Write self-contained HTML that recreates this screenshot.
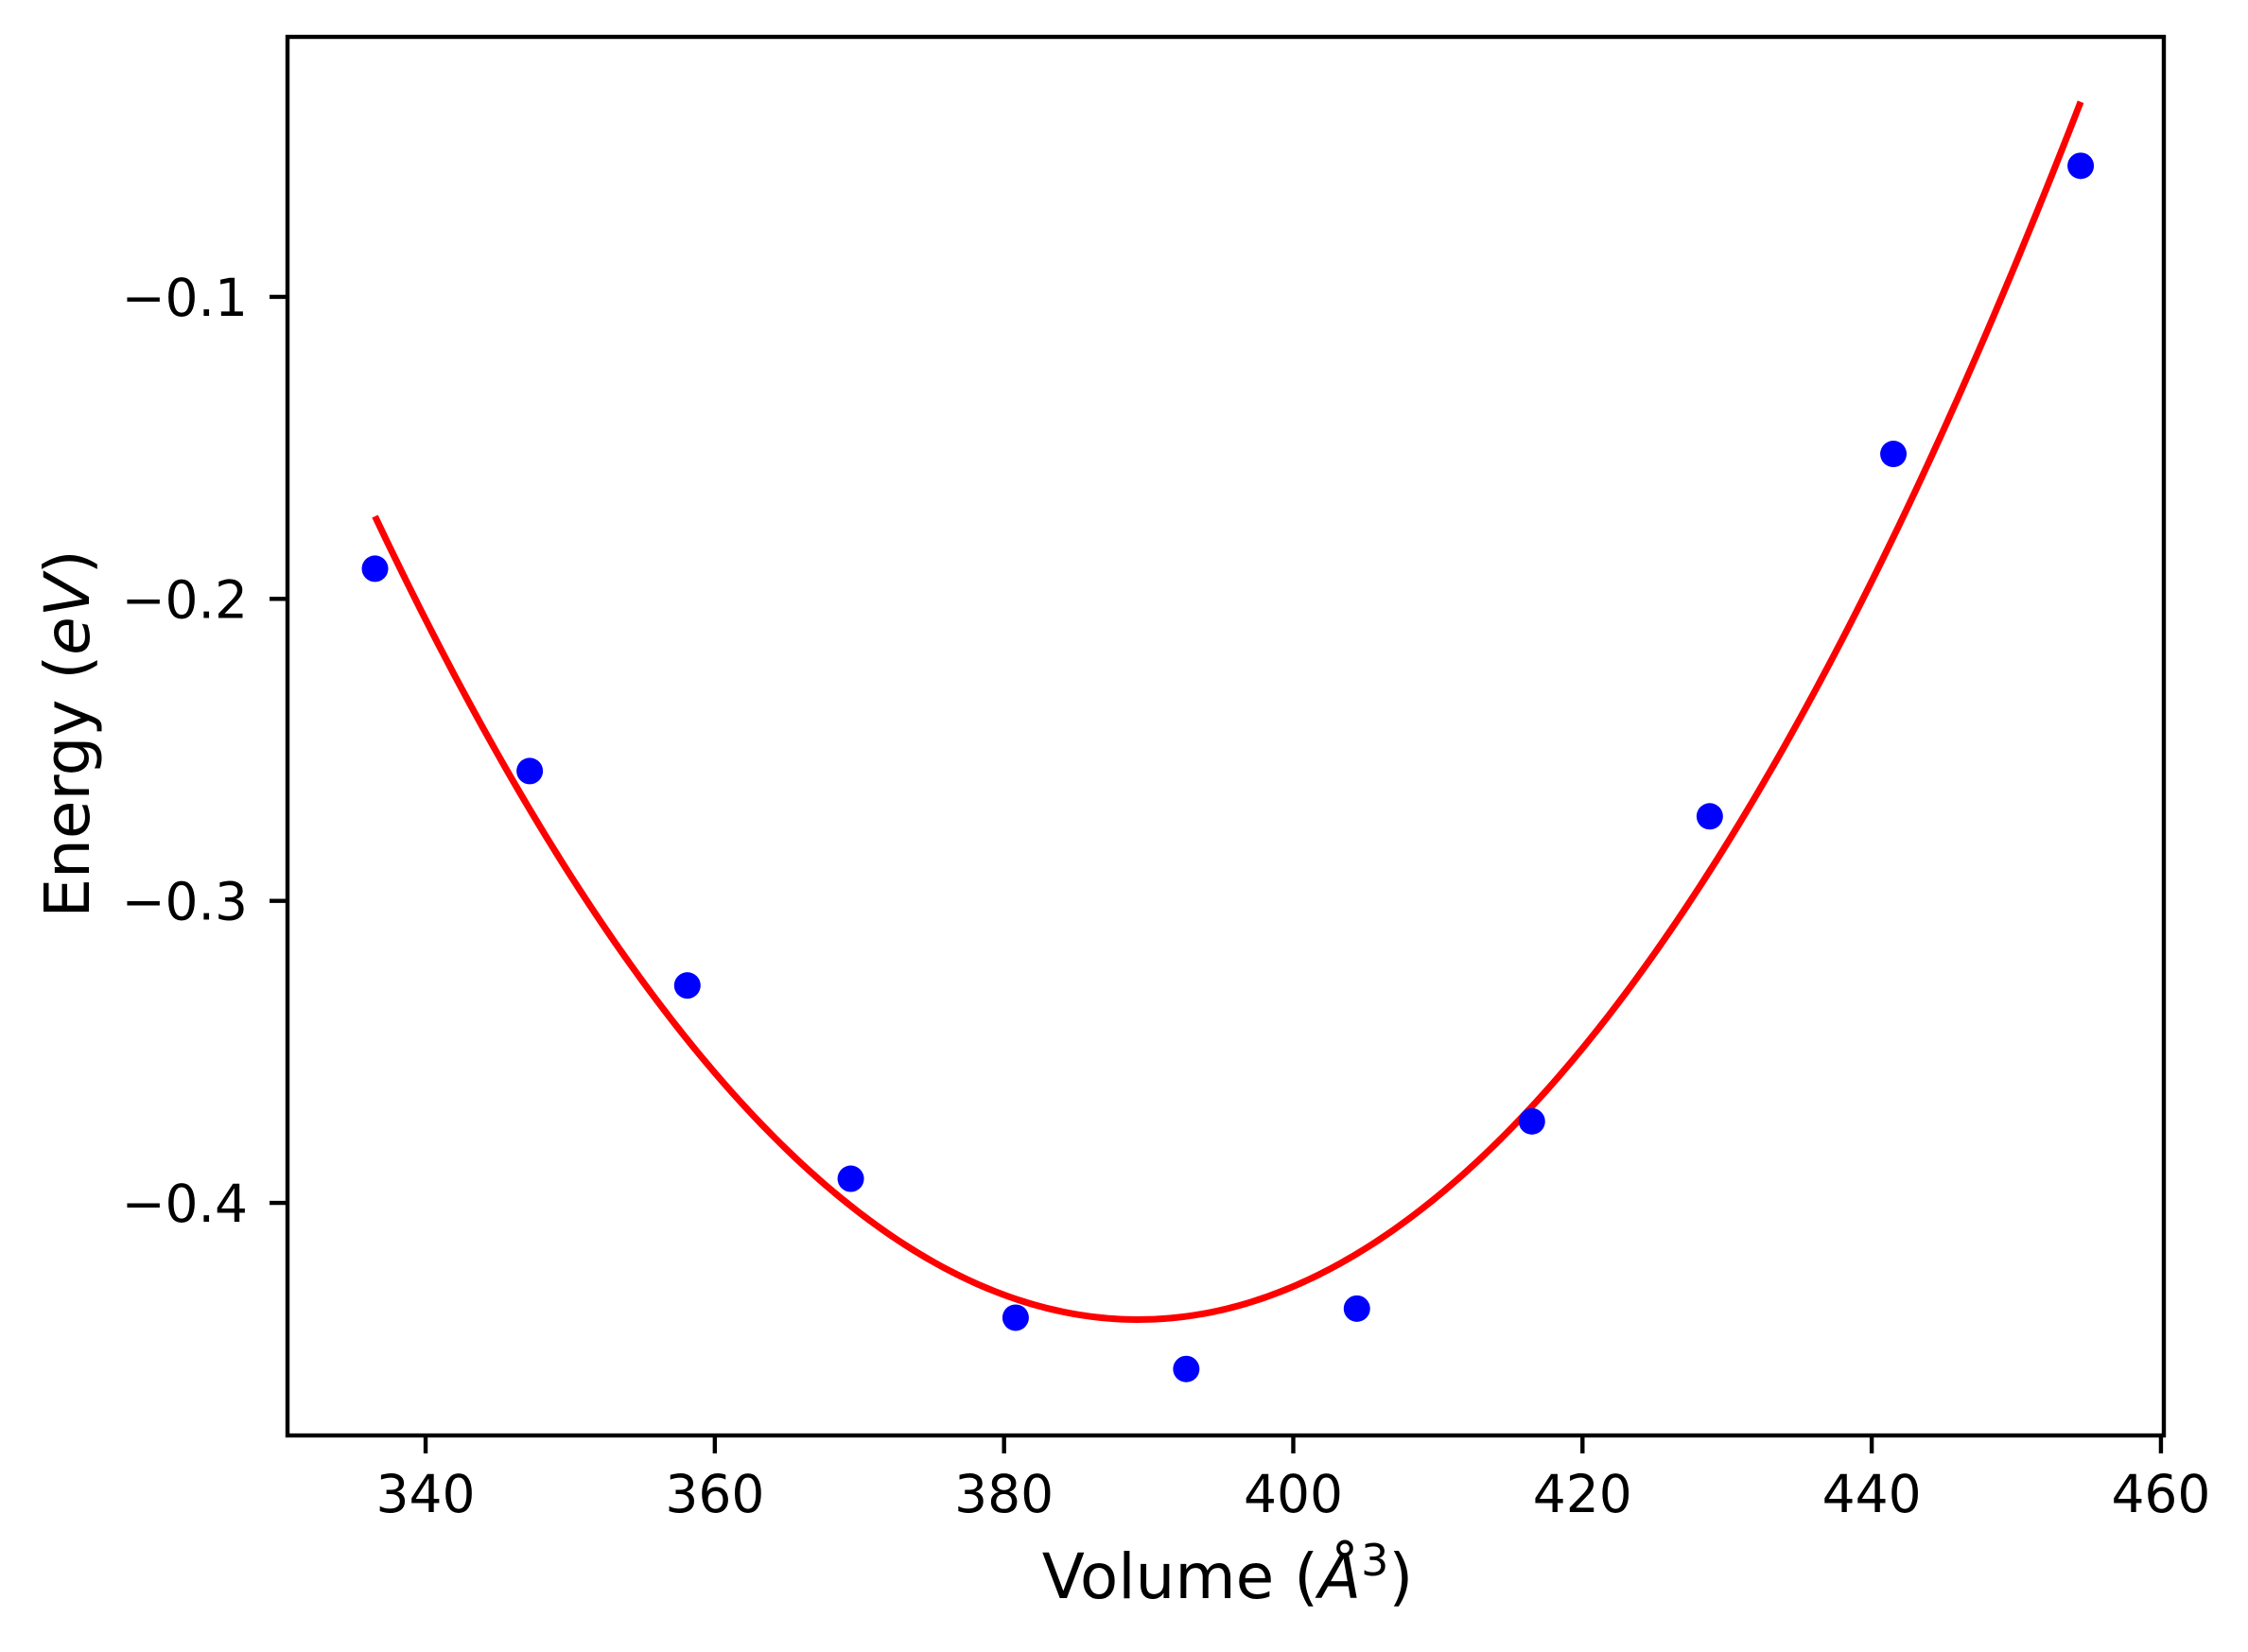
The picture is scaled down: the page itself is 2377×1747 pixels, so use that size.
<!DOCTYPE html>
<html><head><meta charset="utf-8"><style>
html,body{margin:0;padding:0;background:#fff;}
svg{display:block;font-family:"DejaVu Sans","Liberation Sans",sans-serif;}
</style></head><body>
<svg id="chart" width="2377" height="1747" viewBox="0 0 2377 1747" xmlns="http://www.w3.org/2000/svg">
<rect x="0" y="0" width="2377" height="1747" fill="#fff"/>
<g id="plot"></g>
<text x="1298" y="1690" font-size="66" text-anchor="middle">Volume (<tspan font-style="italic">Å</tspan><tspan font-size="46" dy="-24">3</tspan><tspan dy="24">)</tspan></text>
<text transform="translate(94,776) rotate(-90)" font-size="66" text-anchor="middle">Energy (<tspan font-style="italic">eV</tspan>)</text>
</svg>
<script>
const volumes = [336.5, 347.2, 358.1, 369.4, 380.8, 392.6, 404.4, 416.5, 428.8, 441.5, 454.45];
const energies = [-0.190, -0.257, -0.328, -0.392, -0.438, -0.455, -0.435, -0.373, -0.272, -0.152, -0.0566];
const xTicks = [340, 360, 380, 400, 420, 440, 460];
const yTicks = [-0.1, -0.2, -0.3, -0.4];
const yTickLabels = ["\u22120.1", "\u22120.2", "\u22120.3", "\u22120.4"];

const L = 304, R = 2288, T = 39, B = 1518;
const xMin = 330.45, xMax = 460.2, yMin = -0.477, yMax = -0.0139;
function sx(v){ return L + (v - xMin) / (xMax - xMin) * (R - L); }
function sy(v){ return B - (v - yMin) / (yMax - yMin) * (B - T); }

const NS = "http://www.w3.org/2000/svg";
const plot = document.getElementById('plot');
function mk(tag, attrs){ const e = document.createElementNS(NS, tag); for (const k in attrs) e.setAttribute(k, attrs[k]); plot.appendChild(e); return e; }

// cubic least-squares fit of the data
function fitCubic(xs, ys){
  const n = 4, m = xs.length, xc = xs.reduce((a,b)=>a+b,0)/m;
  const A = [], bv = [];
  for (let i=0;i<n;i++){ A.push(new Array(n).fill(0)); bv.push(0); }
  for (let k=0;k<m;k++){
    const t = (xs[k]-xc)/50;
    for (let i=0;i<n;i++){ bv[i] += Math.pow(t,i)*ys[k]; for (let j=0;j<n;j++) A[i][j] += Math.pow(t,i+j); }
  }
  for (let i=0;i<n;i++){
    let p=i; for (let r=i+1;r<n;r++) if (Math.abs(A[r][i])>Math.abs(A[p][i])) p=r;
    [A[i],A[p]]=[A[p],A[i]]; [bv[i],bv[p]]=[bv[p],bv[i]];
    for (let r=i+1;r<n;r++){ const f=A[r][i]/A[i][i]; for (let c=i;c<n;c++) A[r][c]-=f*A[i][c]; bv[r]-=f*bv[i]; }
  }
  const c = new Array(n).fill(0);
  for (let i=n-1;i>=0;i--){ let s=bv[i]; for (let j=i+1;j<n;j++) s-=A[i][j]*c[j]; c[i]=s/A[i][i]; }
  return v => { const t=(v-xc)/50; return c[0]+c[1]*t+c[2]*t*t+c[3]*t*t*t; };
}
const f = fitCubic(volumes, energies);
const v0 = Math.min(...volumes), v1 = Math.max(...volumes);
let d = "";
for (let i=0;i<=300;i++){ const v = v0 + (v1-v0)*i/300; d += (i?"L":"M") + sx(v).toFixed(2) + "," + sy(f(v)).toFixed(2); }
const curve = mk('path', {d:d, fill:'none', stroke:'#ff0000', 'stroke-width':7});



volumes.forEach((v,i)=>{
  const c = mk('circle', {cx:sx(v), cy:sy(energies[i]), r:14, fill:'#0000ff'});
  
  
});

const frame = mk('rect', {x:L, y:T, width:R-L, height:B-T, fill:'none', stroke:'#000', 'stroke-width':4.4});



xTicks.forEach(t=>{
  const x = sx(t);
  const ln = mk('line', {x1:x, y1:B, x2:x, y2:B+19, stroke:'#000', 'stroke-width':4.4});
  
  
  const tx = mk('text', {x:x, y:B+81, 'font-size':55, 'text-anchor':'middle'});
  tx.textContent = String(t);
  
  
});
yTicks.forEach((t,i)=>{
  const y = sy(t);
  const ln = mk('line', {x1:L-19, y1:y, x2:L, y2:y, stroke:'#000', 'stroke-width':4.4});
  
  
  const tx = mk('text', {x:262, y:y+20, 'font-size':55, 'text-anchor':'end'});
  tx.textContent = yTickLabels[i];
  
  
});
</script>
</body></html>
